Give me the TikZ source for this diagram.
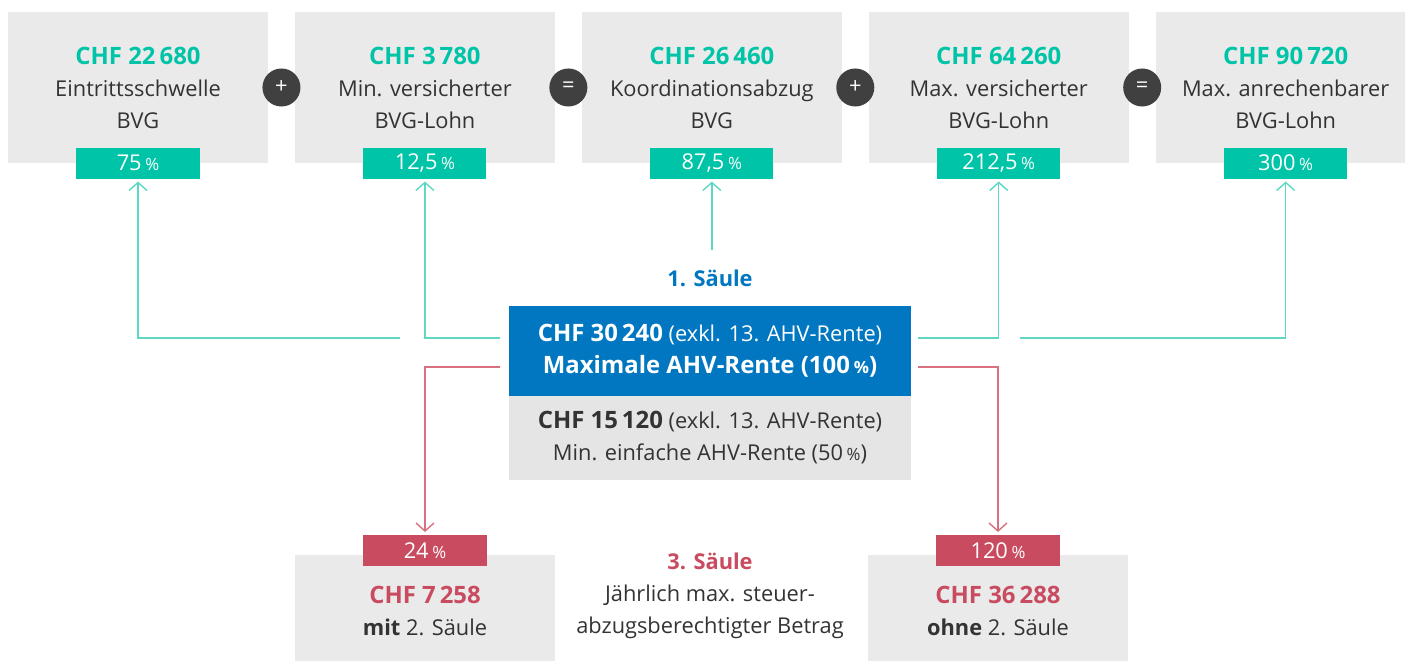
\documentclass[tikz,border=0pt]{standalone}
\usepackage{fontspec}
\setmainfont{Open Sans}
\usepackage{xcolor}
\usepackage{tikz}
\usetikzlibrary{arrows.meta,positioning,calc}
\definecolor{ink}{HTML}{333333}
\definecolor{panel}{HTML}{EAEAEA}
\definecolor{panelb}{HTML}{E5E5E5}
\definecolor{teal}{HTML}{00C4A8}
\definecolor{tealline}{HTML}{5ED8C5}
\definecolor{ahvblue}{HTML}{0077C0}
\definecolor{rose}{HTML}{C94B5F}
\definecolor{roseline}{HTML}{D8707F}
\definecolor{opgray}{HTML}{404040}
\newcommand{\pct}{\,{\fontsize{4.8}{6}\selectfont\%}}
\newcommand{\amount}[1]{{\fontsize{6.8}{9.1}\selectfont\bfseries #1}}

\begin{document}
\begin{tikzpicture}[x=0.01cm,y=-0.01cm, node distance=0.2675cm, every node/.style={font=\fontsize{6.2}{9.1}\selectfont,text=ink,outer sep=0pt}, box/.style={fill=panel,minimum width=2.6cm,minimum height=1.51cm,align=center,inner sep=0pt}, tag/.style={fill=teal,text=white,minimum width=1.23cm,minimum height=0.31cm,inner sep=0pt}, rtag/.style={tag,fill=rose}, op/.style={circle,fill=opgray,text=white,minimum size=0.38cm,inner sep=0pt}, hd/.style={font=\fontsize{6.2}{9.1}\selectfont\bfseries}, tl/.style={draw=tealline,line width=.4pt,-{Straight Barb[length=0.8mm,width=1.8mm]},shorten >=0.03cm}, rl/.style={tl,draw=roseline}]
\clip (0,0) rectangle (1405,661);
\useasboundingbox (0,0) rectangle (1405,661);
% 2. Saeule
\node[box] (a) at (138,87.5) {\textcolor{teal}{\amount{CHF 22\,680}}\\Eintrittsschwelle\\BVG};
\node[box,right=of a] (b) {\textcolor{teal}{\amount{CHF 3\,780}}\\Min. versicherter\\BVG-Lohn};
\node[box,right=of b] (c) {\textcolor{teal}{\amount{CHF 26\,460}}\\Koordinationsabzug\\BVG};
\node[box,right=of c] (d) {\textcolor{teal}{\amount{CHF 64\,260}}\\Max. versicherter\\BVG-Lohn};
\node[box,right=of d] (e) {\textcolor{teal}{\amount{CHF 90\,720}}\\Max. anrechenbarer\\BVG-Lohn};
\foreach \x/\y/\s in {a/b/+,b/c/=,c/d/+,d/e/=}{\node[op] at ($(\x.east)!0.5!(\y.west)$) {\textcolor{white}{\s}};}
\node[tag] (p1) at (a.south) {\textcolor{white}{75\pct}};
\node[tag] (p2) at (b.south) {\textcolor{white}{12,5\pct}};
\node[tag] (p3) at (c.south) {\textcolor{white}{87,5\pct}};
\node[tag] (p4) at (d.south) {\textcolor{white}{212,5\pct}};
\node[tag] (p5) at (e.south) {\textcolor{white}{300\pct}};
% 1. Saeule
\node[hd,text=ahvblue] (s1) at (710,278) {1. Säule};
\node[fill=ahvblue,minimum width=4.02cm,minimum height=0.9cm,align=center,inner sep=0pt] (m) at (710,351) {\textcolor{white}{\amount{CHF 30\,240} (exkl. 13. AHV-Rente)}\\\textcolor{white}{\amount{Maximale AHV-Rente (100\pct)}}};
\node[fill=panelb,minimum width=4.02cm,minimum height=0.84cm,align=center,inner sep=0pt,below=0pt of m] (n) {\amount{CHF 15\,120} (exkl. 13. AHV-Rente)\\Min. einfache AHV-Rente (50\pct)};
% 3. Saeule
\node[box,minimum height=1.12cm] (f) at (425,611) {\textcolor{rose}{\amount{CHF 7\,258}}\\\textbf{mit} 2. Säule};
\node[box,minimum height=1.12cm] (g) at (998,611) {\textcolor{rose}{\amount{CHF 36\,288}}\\\textbf{ohne} 2. Säule};
\node[rtag] (q1) at ([yshift=0.045cm]f.north) {\textcolor{white}{24\pct}};
\node[rtag] (q2) at ([yshift=0.045cm]g.north) {\textcolor{white}{120\pct}};
\node[align=center] (s3) at (710,596) {\textcolor{rose}{\bfseries 3. Säule}\\Jährlich max. steuer-\\abzugsberechtigter Betrag};
% connectors
\coordinate (t1) at (400,338);
\coordinate (t2) at (500,338);
\coordinate (t3) at (918,338);
\coordinate (t4) at (1020,338);
\path (p3) ++(0,87) coordinate (t5);
\coordinate (r1) at (500,367);
\coordinate (r2) at (918,367);
\foreach \x/\y in {t1/p1,t2/p2,t3/p4,t4/p5}{\draw[tl] (\x) -| (\y);}
\draw[tl] (t5) -- (p3);
\foreach \x/\y in {r1/q1,r2/q2}{\draw[rl] (\x) -| (\y);}
\end{tikzpicture}
\end{document}
